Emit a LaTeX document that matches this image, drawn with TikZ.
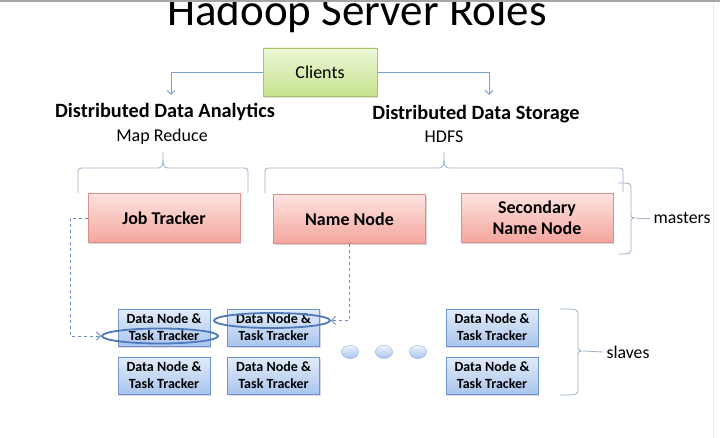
\documentclass[tikz,border=0pt]{standalone}
\usepackage{fontspec}
\setmainfont{Carlito}
\usetikzlibrary{arrows.meta,shadows,shapes.geometric}
\definecolor{clientTop}{HTML}{EEF7D8}
\definecolor{clientBot}{HTML}{C5E38E}
\definecolor{clientBorder}{HTML}{A6C46A}
\definecolor{pinkTop}{HTML}{FCE4E0}
\definecolor{pinkBot}{HTML}{F4A59C}
\definecolor{pinkBorder}{HTML}{DE8F88}
\definecolor{blueTop}{HTML}{E2ECFA}
\definecolor{blueBot}{HTML}{A9C5EE}
\definecolor{blueBorder}{HTML}{6F93CC}
\definecolor{ringCol}{HTML}{4F79B8}
\definecolor{dashCol}{HTML}{6A8CC0}
\definecolor{braceCol}{HTML}{9FB0CC}
\definecolor{arrowCol}{HTML}{7AA0CC}
\tikzset{
  clientbox/.style={draw=clientBorder, top color=clientTop, bottom color=clientBot,
    minimum width=114pt, minimum height=48pt, font=\fontsize{18}{21}\selectfont,
    drop shadow={shadow xshift=1pt, shadow yshift=-2pt, opacity=0.25}},
  masterbox/.style={draw=pinkBorder, top color=pinkTop, bottom color=pinkBot,
    minimum width=152pt, minimum height=49pt, align=center, inner sep=1pt,
    font=\bfseries\fontsize{18}{21}\selectfont,
    drop shadow={shadow xshift=1pt, shadow yshift=-2pt, opacity=0.3}},
  slavebox/.style={draw=blueBorder, top color=blueTop, bottom color=blueBot,
    minimum width=92pt, minimum height=37pt, align=center, inner sep=1pt,
    font=\bfseries\fontsize{14}{17}\selectfont,
    drop shadow={shadow xshift=1pt, shadow yshift=-1.5pt, opacity=0.3}},
  ring/.style={draw=ringCol, line width=1.8pt, ellipse, minimum width=116pt,
    minimum height=15pt, inner sep=0pt},
  dotnode/.style={draw=blueBorder!80, ellipse, top color=blueTop!60, bottom color=blueBot,
    minimum width=17pt, minimum height=13pt, inner sep=0pt},
  heading/.style={font=\bfseries\fontsize{20.3}{24}\selectfont},
  subhead/.style={font=\fontsize{18}{21}\selectfont},
  sidelabel/.style={font=\fontsize{17.8}{21}\selectfont},
  bracestyle/.style={draw=braceCol, line width=0.8pt},
  clientarrow/.style={draw=arrowCol, line width=0.9pt, -{Straight Barb[length=4pt,width=8pt]}},
  dasharrow/.style={draw=dashCol, line width=0.9pt, dashed, -{Straight Barb[length=4pt,width=8pt]}}
}
\begin{document}
\begin{tikzpicture}[x=1pt,y=-1pt]
\useasboundingbox (0,0) rectangle (720,438);
\fill[white] (0,0) rectangle (720,438);
\draw[gray!15, line width=1pt] (713,0) -- (713,438);

\node[font=\fontsize{45}{54}\selectfont, anchor=base] (title) at (357,26) {Hadoop Server Roles};
\fill[gray!70] (0,0) rectangle (720,2);

\node[clientbox] (clients) at (320,72) {Clients};

\node[heading] (dda) at (165,112) {Distributed Data Analytics};
\node[subhead] (mr) at (162,137) {Map Reduce};
\node[heading] (dds) at (476,114) {Distributed Data Storage};
\node[subhead] (hdfs) at (444,137) {HDFS};

\coordinate (a1) at (171,95);
\coordinate (a2) at (489,95);
\draw[clientarrow] (clients.west) -| (a1);
\draw[clientarrow] (clients.east) -| (a2);

% top braces
\draw[bracestyle] (78,193) -- (78,174) .. controls (78,168) .. (86,168) -- (155,168)
  .. controls (163,168) .. (163,152) .. controls (163,168) .. (171,168) -- (240,168)
  .. controls (248,168) .. (248,174) -- (248,193);
\draw[bracestyle] (265,193) -- (265,174) .. controls (265,168) .. (273,168) -- (436,168)
  .. controls (444,168) .. (444,152) .. controls (444,168) .. (452,168) -- (615,168)
  .. controls (623,168) .. (623,174) -- (623,192);

\node[masterbox] (jt) at (164,218) {Job Tracker};
\node[masterbox] (nn) at (349.5,219) {Name Node};
\node[masterbox] (snn) at (537,218) {Secondary\\Name Node};

% masters brace
\draw[bracestyle] (618,183) .. controls (631,183) .. (631,190) -- (631,212)
  .. controls (631,218) .. (638,218) .. controls (631,218) .. (631,224) -- (631,247)
  .. controls (631,254) .. (618,254);
\node[sidelabel, anchor=west] (masters) at (650,218) {masters};
\draw[bracestyle] (638,218) -- (masters.west);

% slaves
\node[slavebox] (s1) at (164,327.5) {Data Node \&\\Task Tracker};
\node[slavebox] (s2) at (273.5,327.5) {Data Node \&\\Task Tracker};
\node[slavebox] (s3) at (492,327.5) {Data Node \&\\Task Tracker};
\node[slavebox] (s4) at (164,375.5) {Data Node \&\\Task Tracker};
\node[slavebox] (s5) at (273.5,375.5) {Data Node \&\\Task Tracker};
\node[slavebox] (s6) at (492,375.5) {Data Node \&\\Task Tracker};

\node[dotnode] (d1) at (350,352) {};
\node[dotnode] (d2) at (384,352) {};
\node[dotnode] (d3) at (418,352) {};

\node[ring] (e1) at (160,336) {};
\node[ring] (e2) at (272,320.5) {};

\coordinate (jtleft) at (70,218);
\draw[dasharrow] (jt.west) -- (jtleft) |- (e1.west);
\draw[dasharrow] (nn.south) |- (e2.east);

% slaves brace
\draw[bracestyle] (560,309) .. controls (578,309) .. (578,316) -- (578,344)
  .. controls (578,351) .. (584,351) .. controls (578,351) .. (578,358) -- (578,388)
  .. controls (578,395) .. (560,395);
\node[sidelabel, anchor=west] (slaves) at (603,352) {slaves};
\draw[bracestyle] (584,351) -- (slaves.west);
\end{tikzpicture}
\end{document}
